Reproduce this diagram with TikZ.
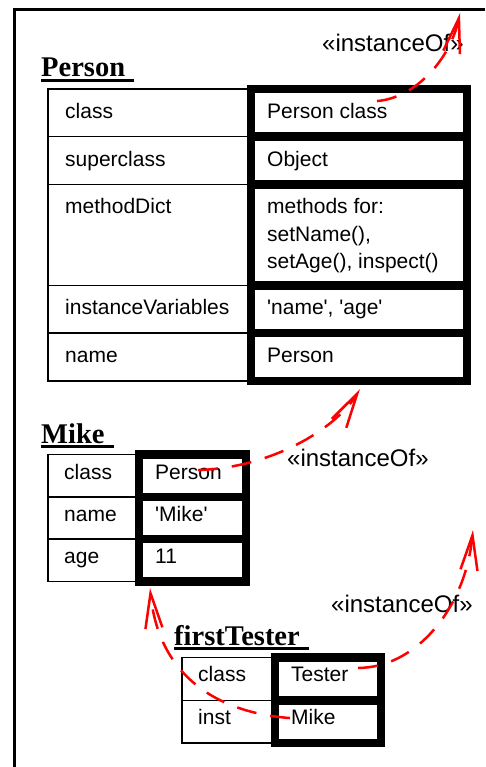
\documentclass[tikz,border=0pt]{standalone}
\usepackage{fontspec}
\newfontfamily\cellfont{Liberation Sans}
\newfontfamily\headfont{Liberation Serif}
\usetikzlibrary{arrows.meta,calc}

\begin{document}
\begin{tikzpicture}[x=1pt,y=-1pt,
  namecell/.style={draw, line width=1.6pt, inner sep=0pt, outer sep=0pt, anchor=north west},
  valcell/.style={draw, line width=8.5pt, inner sep=0pt, outer sep=0pt, anchor=north west},
  celltext/.style={inner sep=0pt, anchor=base west, font=\cellfont\fontsize{21}{27.5}\selectfont},
  heading/.style={inner sep=0pt, anchor=base west, font=\headfont\bfseries\fontsize{28.5}{34}\selectfont},
  underbar/.style={line width=2.7pt},
  stereo/.style={inner sep=0pt, anchor=base west, font=\cellfont\fontsize{24}{28}\selectfont},
  instlink/.style={red, line width=2.5pt, dash pattern=on 20pt off 14pt,
    -{Straight Barb[length=35pt,width=17pt]}},
]
\useasboundingbox (0,0) rectangle (485,767);

% page frame (top and left edges)
\draw[line width=2.7pt] (14.7,767) -- (14.7,9.7) -- (485,9.7);

% ---------------- Person ----------------
\node[heading] (pHead) at (41,77) {Person};
\draw[underbar] ($(pHead.base west)+(0,3.5)$) -- ($(pHead.base east)+(9,3.5)$);

\node[namecell, minimum width=203pt, minimum height=47.5pt] (pN1) at (48,89) {};
\node[namecell, minimum width=203pt, minimum height=48pt]   (pN2) at (48,136.5) {};
\node[namecell, minimum width=203pt, minimum height=101pt]  (pN3) at (48,184.5) {};
\node[namecell, minimum width=203pt, minimum height=47.5pt] (pN4) at (48,285.5) {};
\node[namecell, minimum width=203pt, minimum height=48pt]   (pN5) at (48,333) {};

\node[valcell, minimum width=216pt, minimum height=47.5pt] (pV1) at (251,89) {};
\node[valcell, minimum width=216pt, minimum height=48pt]   (pV2) at (251,136.5) {};
\node[valcell, minimum width=216pt, minimum height=101pt]  (pV3) at (251,184.5) {};
\node[valcell, minimum width=216pt, minimum height=47.5pt] (pV4) at (251,285.5) {};
\node[valcell, minimum width=216pt, minimum height=48pt]   (pV5) at (251,333) {};

\node[celltext] (pN1t) at ($(pN1.west)+(17,5.7)$) {class};
\node[celltext] (pN2t) at ($(pN2.west)+(17,5.7)$) {superclass};
\node[celltext] (pN3t) at ($(pN3.north west)+(17,29)$) {methodDict};
\node[celltext] (pN4t) at ($(pN4.west)+(17,5.7)$) {instanceVariables};
\node[celltext] (pN5t) at ($(pN5.west)+(17,5.7)$) {name};

\node[celltext] (pV1t) at ($(pV1.west)+(16,5.7)$) {Person class};
\node[celltext] (pV2t) at ($(pV2.west)+(16,5.7)$) {Object};
\node[celltext, anchor=north west, align=left] (pV3t) at ($(pV3.north west)+(16,13.8)$)
  {methods for:\\setName(),\\setAge(), inspect()};
\node[celltext] (pV4t) at ($(pV4.west)+(16,5.7)$) {\textquotesingle name\textquotesingle, \textquotesingle age\textquotesingle};
\node[celltext] (pV5t) at ($(pV5.west)+(16,5.7)$) {Person};

% ---------------- Mike ----------------
\node[heading] (mHead) at (41,443.3) {Mike};
\draw[underbar] ($(mHead.base west)+(0,3.5)$) -- ($(mHead.base east)+(9,3.5)$);

\node[namecell, minimum width=91pt, minimum height=42.5pt] (mN1) at (48,454.5) {};
\node[namecell, minimum width=91pt, minimum height=42pt]   (mN2) at (48,497) {};
\node[namecell, minimum width=91pt, minimum height=42.5pt] (mN3) at (48,539) {};

\node[valcell, minimum width=107pt, minimum height=42.5pt] (mV1) at (139,454.5) {};
\node[valcell, minimum width=107pt, minimum height=42pt]   (mV2) at (139,497) {};
\node[valcell, minimum width=107pt, minimum height=42.5pt] (mV3) at (139,539) {};

\node[celltext] (mN1t) at ($(mN1.west)+(16,3.7)$) {class};
\node[celltext] (mN2t) at ($(mN2.west)+(16,3.7)$) {name};
\node[celltext] (mN3t) at ($(mN3.west)+(16,3.7)$) {age};

\node[celltext] (mV1t) at ($(mV1.west)+(16,3.7)$) {Person};
\node[celltext] (mV2t) at ($(mV2.west)+(16,3.7)$) {\textquotesingle Mike\textquotesingle};
\node[celltext] (mV3t) at ($(mV3.west)+(16,3.7)$) {11};

% ---------------- firstTester ----------------
\node[heading] (fHead) at (174,645) {firstTester};
\draw[underbar] ($(fHead.base west)+(0,3.5)$) -- ($(fHead.base east)+(9,3.5)$);

\node[namecell, minimum width=93pt, minimum height=42.8pt] (fN1) at (182,657.5) {};
\node[namecell, minimum width=93pt, minimum height=42.7pt] (fN2) at (182,700.3) {};

\node[valcell, minimum width=106pt, minimum height=42.8pt] (fV1) at (275,657.5) {};
\node[valcell, minimum width=106pt, minimum height=42.7pt] (fV2) at (275,700.3) {};

\node[celltext] (fN1t) at ($(fN1.west)+(16,2.7)$) {class};
\node[celltext] (fN2t) at ($(fN2.west)+(16,2.7)$) {inst};

\node[celltext] (fV1t) at ($(fV1.west)+(16,2.7)$) {Tester};
\node[celltext] (fV2t) at ($(fV2.west)+(16,2.7)$) {Mike};

% ---------------- stereotype labels ----------------
\node[stereo] (st1) at (322,52) {«instanceOf»};
\node[stereo] (st2) at (287,466) {«instanceOf»};
\node[stereo] (st3) at (331,612) {«instanceOf»};

% ---------------- instanceOf links ----------------
\coordinate (metaTop) at (460,13);
\coordinate (testerClass) at (473,530);

\draw[instlink] ($(pV1.center)+(18,-11.7)$) .. controls (415,98) and (450,60) .. (metaTop);
\draw[instlink] ($(mV1.center)+(5.5,-5.7)$) .. controls (270,468) and (335,430) .. ($(pV5.south)+(1,8)$);
\draw[instlink] ($(fV1.center)+(30,-11)$) .. controls (415,668) and (465,610) .. (testerClass);
\draw[instlink] ($(fV2.center)+(-38,-3.6)$) .. controls (210,712) and (158,670) .. ($(mV3.south west)+(11,6.5)$);
\end{tikzpicture}
\end{document}
